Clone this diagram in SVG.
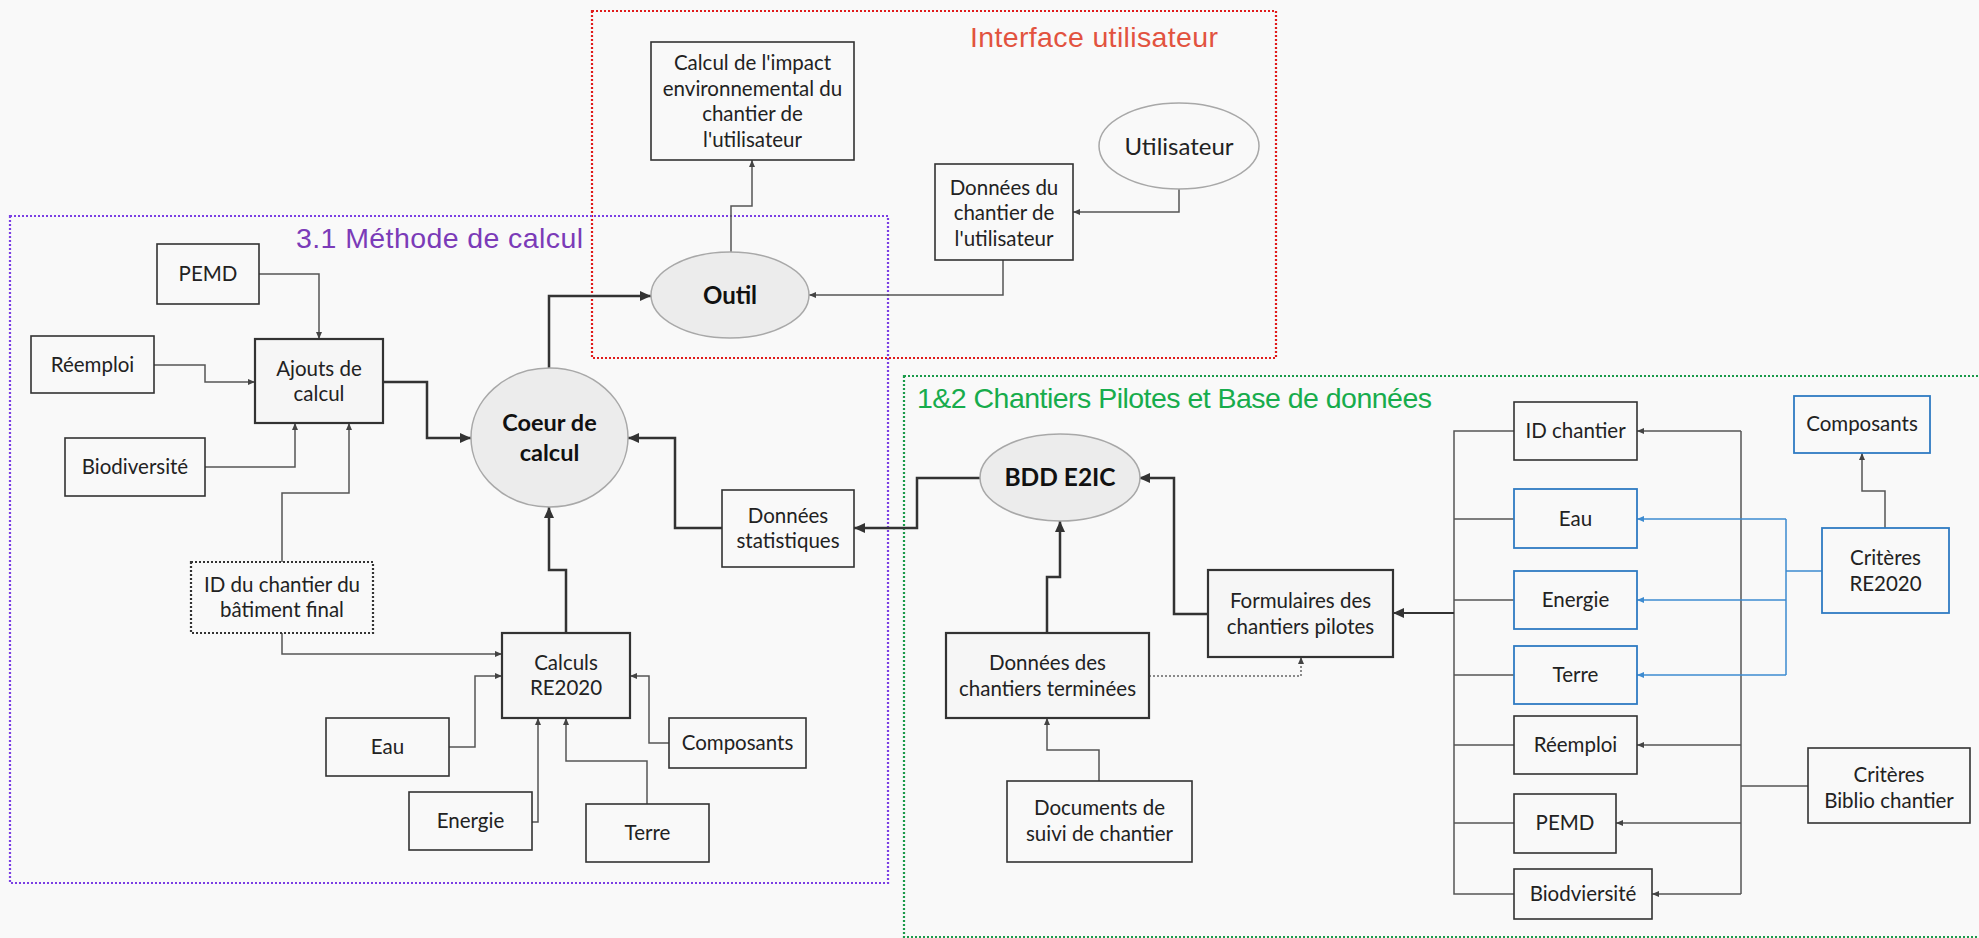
<svg xmlns="http://www.w3.org/2000/svg" width="1979" height="938" viewBox="0 0 1979 938">
<defs>
<style>
.bg{fill:#f9f9f9}
.box{fill:#f9f9f9;stroke:#333;stroke-width:1.6}
.boxb{fill:#f6f6f6;stroke:#333;stroke-width:2.2}
.boxd{fill:#f9f9f9;stroke:#333;stroke-width:2.2;stroke-dasharray:2 2}
.boxblue{fill:#f9f9f9;stroke:#2f7bc2;stroke-width:1.8}
.ell{fill:#ececec;stroke:#a8a8a8;stroke-width:1.5}
.ellw{fill:#f9f9f9;stroke:#a8a8a8;stroke-width:1.5}
.t{font-family:Lato,"Liberation Sans",sans-serif;font-size:20.5px;fill:#222;text-anchor:middle}
.tb{font-family:Lato,"Liberation Sans",sans-serif;font-size:23.5px;font-weight:bold;fill:#111;text-anchor:middle}
.title{font-family:"Liberation Sans",Arial,sans-serif;font-size:28.5px}
.c{fill:none;stroke:#555;stroke-width:1.5;marker-end:url(#as)}
.cn{fill:none;stroke:#555;stroke-width:1.5}
.cb{fill:none;stroke:#333;stroke-width:2.5;marker-end:url(#ab)}
.cdot{fill:none;stroke:#666;stroke-width:1.5;stroke-dasharray:2 2;marker-end:url(#as)}
.cblue{fill:none;stroke:#3d8bd0;stroke-width:1.5;marker-end:url(#abl)}
.cbluen{fill:none;stroke:#3d8bd0;stroke-width:1.5}
.grp{fill:none;stroke-width:2.2;stroke-dasharray:2 2}
</style>
<marker id="as" markerUnits="userSpaceOnUse" markerWidth="8" markerHeight="8" refX="7" refY="4" orient="auto"><path d="M0,1 L7,4 L0,7 z" fill="#444"/></marker>
<marker id="ab" markerUnits="userSpaceOnUse" markerWidth="12" markerHeight="12" refX="11" refY="6" orient="auto"><path d="M0,1 L11,6 L0,11 z" fill="#333"/></marker>
<marker id="abl" markerUnits="userSpaceOnUse" markerWidth="8" markerHeight="8" refX="7" refY="4" orient="auto"><path d="M0,1 L7,4 L0,7 z" fill="#3d8bd0"/></marker>
</defs>
<rect class="bg" x="0" y="0" width="1979" height="938"/>

<g id="groups">
<rect class="grp" x="592" y="11" width="684" height="347" stroke="#e01b1b"/>
<text class="title" x="970" y="47" fill="#e2533f" textLength="248">Interface utilisateur</text>
<rect class="grp" x="10" y="216" width="878" height="667" stroke="#7b3fe4"/>
<text class="title" x="296" y="248" fill="#7b3bb8" textLength="287">3.1 Méthode de calcul</text>
<rect class="grp" x="904" y="376" width="1090" height="561" stroke="#1a9a4a"/>
<text class="title" x="917" y="408" fill="#17ac4c" textLength="515">1&amp;2 Chantiers Pilotes et Base de données</text>
</g>

<g id="connectors">
<path class="c" d="M259,274 H319 V339"/>
<path class="c" d="M154,365 H205 V382 H255"/>
<path class="c" d="M205,467 H295 V423"/>
<path class="c" d="M282,562 V493 H349 V423"/>
<path class="c" d="M282,633 V654 H502"/>
<path class="c" d="M449,747 H475 V676 H502"/>
<path class="c" d="M532,822 H538 V718"/>
<path class="c" d="M647,804 V761 H566 V718"/>
<path class="c" d="M669,743 H649 V676 H630"/>
<path class="cb" d="M383,382 H427 V438 H471"/>
<path class="cb" d="M566,633 V570 H549 V507"/>
<path class="cb" d="M722,528 H675 V438 H628"/>
<path class="cb" d="M549,368 V296 H651"/>
<path class="c" d="M731,252 V206 H752 V160"/>
<path class="c" d="M1179,189 V212 H1073"/>
<path class="c" d="M1003,260 V295 H809"/>
<path class="cb" d="M980,478 H917 V528 H854"/>
<path class="cb" d="M1047,633 V577 H1060 V521"/>
<path class="cb" d="M1208,614 H1174 V478 H1139"/>
<path class="cdot" d="M1149,676 H1301 V657"/>
<path class="c" d="M1099,781 V750 H1047 V718"/>
<path class="cn" d="M1514,431 H1454 V894 H1514"/>
<path class="cn" d="M1454,519 H1514 M1454,600 H1514 M1454,675 H1514 M1454,745 H1514 M1454,823 H1514"/>
<path class="cb" d="M1454,613 H1393" style="stroke-width:2"/>
<path class="cn" d="M1741,431 V894 M1808,786 H1741"/>
<path class="c" d="M1741,431 H1637"/>
<path class="c" d="M1741,745 H1637"/>
<path class="c" d="M1741,823 H1616"/>
<path class="c" d="M1741,894 H1652"/>
<path class="cbluen" d="M1822,571 H1786 M1786,519 V675"/>
<path class="cblue" d="M1786,519 H1637"/>
<path class="cblue" d="M1786,600 H1637"/>
<path class="cblue" d="M1786,675 H1637"/>
<path class="c" d="M1885,528 V491 H1862 V453"/>
</g>

<g id="n-pemd"><rect class="box" x="157" y="244" width="102" height="60"/><text class="t" x="208" y="281">PEMD</text></g>
<g id="n-reemploi"><rect class="box" x="31" y="336" width="123" height="57"/><text class="t" x="92.5" y="372">Réemploi</text></g>
<g id="n-biodiv"><rect class="box" x="65" y="438" width="140" height="58"/><text class="t" x="135" y="474">Biodiversité</text></g>
<g id="n-ajouts"><rect class="boxb" x="255" y="339" width="128" height="84"/><text class="t" x="319" y="376">Ajouts de</text><text class="t" x="319" y="401">calcul</text></g>
<g id="n-idfinal"><rect class="boxd" x="191" y="562" width="182" height="71"/><text class="t" x="282" y="592">ID du chantier du</text><text class="t" x="282" y="617">bâtiment final</text></g>
<g id="n-calculs"><rect class="boxb" x="502" y="633" width="128" height="85"/><text class="t" x="566" y="670">Calculs</text><text class="t" x="566" y="695">RE2020</text></g>
<g id="n-eau1"><rect class="box" x="326" y="718" width="123" height="58"/><text class="t" x="387.5" y="754">Eau</text></g>
<g id="n-energie1"><rect class="box" x="409" y="792" width="123" height="58"/><text class="t" x="470.5" y="828">Energie</text></g>
<g id="n-terre1"><rect class="box" x="586" y="804" width="123" height="58"/><text class="t" x="647.5" y="840">Terre</text></g>
<g id="n-composants1"><rect class="box" x="669" y="718" width="137" height="50"/><text class="t" x="737.5" y="750">Composants</text></g>
<g id="n-stats"><rect class="box" x="722" y="490" width="132" height="77"/><text class="t" x="788" y="523">Données</text><text class="t" x="788" y="548">statistiques</text></g>
<g id="n-coeur"><ellipse class="ell" cx="549.5" cy="437.5" rx="78.5" ry="69.5"/><text class="tb" x="549.5" y="431">Coeur de</text><text class="tb" x="549.5" y="461">calcul</text></g>
<g id="n-outil"><ellipse class="ell" cx="730" cy="295" rx="79" ry="43"/><text class="tb" x="730" y="304" style="font-size:24px">Outil</text></g>

<g id="n-impact"><rect class="box" x="651" y="42" width="203" height="118"/><text class="t" x="752.5" y="70">Calcul de l'impact</text><text class="t" x="752.5" y="96">environnemental du</text><text class="t" x="752.5" y="121">chantier de</text><text class="t" x="752.5" y="147">l'utilisateur</text></g>
<g id="n-utilisateur"><ellipse class="ellw" cx="1179" cy="146" rx="80" ry="43"/><text class="t" x="1179" y="155" style="font-size:24px">Utilisateur</text></g>
<g id="n-donneesuser"><rect class="box" x="935" y="164" width="138" height="96"/><text class="t" x="1004" y="195">Données du</text><text class="t" x="1004" y="220">chantier de</text><text class="t" x="1004" y="246">l'utilisateur</text></g>

<g id="n-bdd"><ellipse class="ell" cx="1060" cy="477.5" rx="80" ry="43.5"/><text class="tb" x="1060" y="486" style="font-size:24.5px">BDD E2IC</text></g>
<g id="n-terminees"><rect class="boxb" x="946" y="633" width="203" height="85"/><text class="t" x="1047.5" y="670">Données des</text><text class="t" x="1047.5" y="696">chantiers terminées</text></g>
<g id="n-formulaires"><rect class="boxb" x="1208" y="570" width="185" height="87"/><text class="t" x="1300.5" y="608">Formulaires des</text><text class="t" x="1300.5" y="634">chantiers pilotes</text></g>
<g id="n-documents"><rect class="box" x="1007" y="781" width="185" height="81"/><text class="t" x="1099.5" y="815">Documents de</text><text class="t" x="1099.5" y="841">suivi de chantier</text></g>
<g id="n-idchantier"><rect class="box" x="1514" y="402" width="123" height="58"/><text class="t" x="1575.5" y="438">ID chantier</text></g>
<g id="n-eau2"><rect class="boxblue" x="1514" y="489" width="123" height="59"/><text class="t" x="1575.5" y="526">Eau</text></g>
<g id="n-energie2"><rect class="boxblue" x="1514" y="571" width="123" height="58"/><text class="t" x="1575.5" y="607">Energie</text></g>
<g id="n-terre2"><rect class="boxblue" x="1514" y="646" width="123" height="58"/><text class="t" x="1575.5" y="682">Terre</text></g>
<g id="n-reemploi2"><rect class="box" x="1514" y="716" width="123" height="58"/><text class="t" x="1575.5" y="752">Réemploi</text></g>
<g id="n-pemd2"><rect class="box" x="1514" y="794" width="102" height="59"/><text class="t" x="1565" y="830">PEMD</text></g>
<g id="n-biodv2"><rect class="box" x="1514" y="869" width="138" height="50"/><text class="t" x="1583" y="901">Biodviersité</text></g>
<g id="n-composants2"><rect class="boxblue" x="1794" y="396" width="136" height="57"/><text class="t" x="1862" y="431">Composants</text></g>
<g id="n-criteresre"><rect class="boxblue" x="1822" y="528" width="127" height="85"/><text class="t" x="1885.5" y="565">Critères</text><text class="t" x="1885.5" y="591">RE2020</text></g>
<g id="n-criteresbiblio"><rect class="box" x="1808" y="748" width="162" height="75"/><text class="t" x="1889" y="782">Critères</text><text class="t" x="1889" y="808">Biblio chantier</text></g>
</svg>
